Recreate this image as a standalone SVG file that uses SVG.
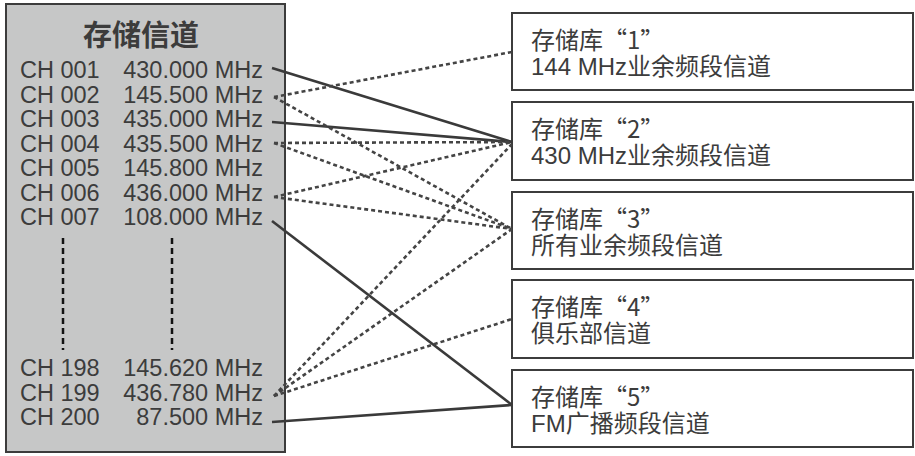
<svg xmlns="http://www.w3.org/2000/svg" width="915" height="456" viewBox="0 0 915 456">
<defs>
<style>
.txt{font-family:"Liberation Sans","Noto Sans CJK SC",sans-serif;fill:#3c3c3c;font-size:23.5px}
.bt{font-family:"Liberation Sans","Noto Sans CJK SC",sans-serif;fill:#3c3c3c;font-size:24px}
.q{font-family:"Noto Sans CJK SC",sans-serif}
.title{font-family:"Noto Sans CJK SC",sans-serif;font-weight:bold;font-size:29px;fill:#3c3c3c}
.box{fill:#fff;stroke:#3c3c3c;stroke-width:2}
.solid{fill:none;stroke:#3a3a3a;stroke-width:2.6}
.dot{fill:none;stroke:#444;stroke-width:2.6;stroke-dasharray:4 3}
.vdash{fill:none;stroke:#111;stroke-width:2.5;stroke-dasharray:6 4}
</style>
</defs>
<rect width="915" height="456" fill="#fff"/>
<g id="panel">
<rect x="6" y="4" width="279" height="448" fill="#c6c7c7" stroke="#3c3c3c" stroke-width="2"/>
<text class="title" x="141" y="46" text-anchor="middle">存储信道</text>
<g class="txt">
<text x="20" y="78">CH 001</text><text x="263" y="78" text-anchor="end">430.000 MHz</text>
<text x="20" y="102.5">CH 002</text><text x="263" y="102.5" text-anchor="end">145.500 MHz</text>
<text x="20" y="127">CH 003</text><text x="263" y="127" text-anchor="end">435.000 MHz</text>
<text x="20" y="151.5">CH 004</text><text x="263" y="151.5" text-anchor="end">435.500 MHz</text>
<text x="20" y="176">CH 005</text><text x="263" y="176" text-anchor="end">145.800 MHz</text>
<text x="20" y="200.5">CH 006</text><text x="263" y="200.5" text-anchor="end">436.000 MHz</text>
<text x="20" y="225">CH 007</text><text x="263" y="225" text-anchor="end">108.000 MHz</text>
<text x="20" y="376">CH 198</text><text x="263" y="376" text-anchor="end">145.620 MHz</text>
<text x="20" y="400.5">CH 199</text><text x="263" y="400.5" text-anchor="end">436.780 MHz</text>
<text x="20" y="425">CH 200</text><text x="263" y="425" text-anchor="end">87.500 MHz</text>
</g>
<line class="vdash" x1="63" y1="238" x2="63" y2="350"/>
<line class="vdash" x1="172" y1="238" x2="172" y2="350"/>
</g>
<g id="bank1"><rect class="box" x="512" y="13" width="401" height="77"/>
<text class="bt" x="531" y="48.5">存储库<tspan class="q">“1”</tspan></text>
<text class="bt" x="531" y="74.5">144 MHz业余频段信道</text></g>
<g id="bank2"><rect class="box" x="512" y="102" width="401" height="78"/>
<text class="bt" x="531" y="137.5">存储库<tspan class="q">“2”</tspan></text>
<text class="bt" x="531" y="163.5">430 MHz业余频段信道</text></g>
<g id="bank3"><rect class="box" x="512" y="192" width="401" height="77"/>
<text class="bt" x="531" y="227.5">存储库<tspan class="q">“3”</tspan></text>
<text class="bt" x="531" y="253.5">所有业余频段信道</text></g>
<g id="bank4"><rect class="box" x="512" y="280" width="401" height="78"/>
<text class="bt" x="531" y="315.5">存储库<tspan class="q">“4”</tspan></text>
<text class="bt" x="531" y="341.5">俱乐部信道</text></g>
<g id="bank5"><rect class="box" x="512" y="370" width="401" height="77"/>
<text class="bt" x="531" y="405.5">存储库<tspan class="q">“5”</tspan></text>
<text class="bt" x="531" y="431.5">FM广播频段信道</text></g>
<g id="connectors">
<line class="solid" x1="272" y1="68" x2="512" y2="142"/>
<line class="solid" x1="272" y1="122" x2="512" y2="142"/>
<line class="solid" x1="272" y1="221" x2="512" y2="405"/>
<line class="solid" x1="272" y1="422" x2="512" y2="405"/>
<line class="dot" x1="274" y1="97" x2="512" y2="52"/>
<line class="dot" x1="274" y1="97" x2="512" y2="229"/>
<line class="dot" x1="274" y1="143" x2="512" y2="142"/>
<line class="dot" x1="274" y1="143" x2="512" y2="229"/>
<line class="dot" x1="274" y1="197" x2="512" y2="142"/>
<line class="dot" x1="274" y1="197" x2="512" y2="229"/>
<line class="dot" x1="274" y1="396" x2="512" y2="144"/>
<line class="dot" x1="274" y1="396" x2="512" y2="229"/>
<line class="dot" x1="274" y1="396" x2="512" y2="319"/>
</g>
</svg>
